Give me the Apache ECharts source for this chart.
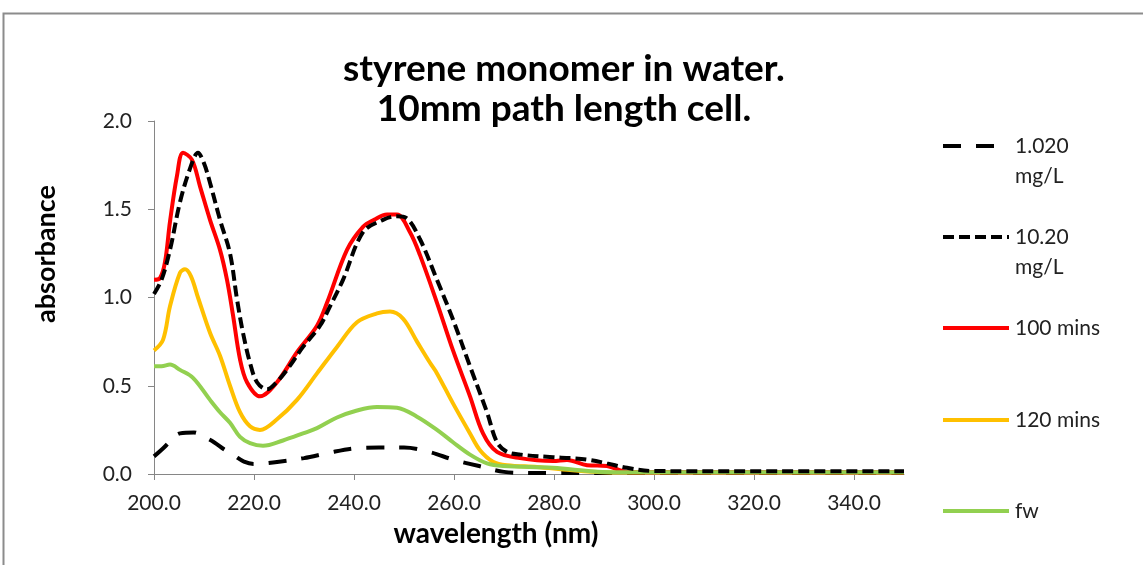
<!DOCTYPE html>
<html><head><meta charset="utf-8">
<script src="https://cdn.jsdelivr.net/npm/echarts@6/dist/echarts.min.js"></script>
<style>html,body{margin:0;padding:0;background:#fff}#c{width:1143px;height:565px}</style>
</head><body><div id="c"></div>
<script>
const seriesNames = ['1.020\nmg/L', '10.20\nmg/L', '100 mins', '120 mins', 'fw'];
const xTicks = [200, 220, 240, 260, 280, 300, 320, 340];
const yTicks = [0, 0.5, 1.0, 1.5, 2.0];

const wl1  = [200, 202, 204, 205.2, 208, 210, 212, 214, 216, 218, 220, 222, 225, 230, 235, 240, 245, 250, 255, 260, 265, 270, 275, 280, 300, 350];
const abs1 = [0.10, 0.15, 0.21, 0.23, 0.235, 0.21, 0.18, 0.14, 0.105, 0.07, 0.057, 0.06, 0.07, 0.09, 0.12, 0.145, 0.15, 0.15, 0.125, 0.08, 0.045, 0.012, 0.006, 0.005, 0.005, 0.005];

const wl2  = [200, 201.5, 203.2, 205.2, 207.2, 208.8, 210, 211.2, 213.2, 215.2, 216.6, 217.8, 219.2, 220.6, 222.6, 224.5, 226.6, 229.8, 233.2, 235.2, 237.8, 241.8, 245.8, 248.5, 250.5, 253.2, 256.6, 259.8, 263.2, 266.6, 268.6, 270.6, 273.2, 279.8, 283.2, 287, 290.6, 294.6, 299.8, 320, 350];
const abs2 = [1.02, 1.10, 1.27, 1.54, 1.73, 1.82, 1.76, 1.65, 1.44, 1.25, 0.99, 0.80, 0.63, 0.52, 0.48, 0.52, 0.59, 0.72, 0.84, 0.95, 1.10, 1.37, 1.44, 1.46, 1.45, 1.33, 1.10, 0.875, 0.61, 0.35, 0.18, 0.125, 0.11, 0.095, 0.09, 0.08, 0.06, 0.035, 0.017, 0.015, 0.015];

const wl3  = [200, 201.2, 202.2, 203.2, 204.6, 205.8, 207.6, 209.2, 211.2, 213.2, 214.6, 215.8, 217.2, 218.6, 221.2, 224.6, 228.6, 232.6, 234.6, 238.6, 241.8, 244, 246.6, 248.6, 251.2, 253.2, 256.6, 259.8, 263.2, 265.8, 268.6, 273.2, 279.8, 282.6, 286.6, 290.6, 294.6, 300, 350];
const abs3 = [1.10, 1.11, 1.20, 1.43, 1.69, 1.82, 1.78, 1.63, 1.44, 1.27, 1.10, 0.90, 0.65, 0.52, 0.44, 0.52, 0.69, 0.84, 0.97, 1.27, 1.40, 1.44, 1.47, 1.47, 1.37, 1.24, 0.97, 0.70, 0.44, 0.23, 0.125, 0.09, 0.074, 0.08, 0.05, 0.045, 0.012, 0.01, 0.01];

const wl4  = [200, 201.8, 203.2, 205.2, 206.2, 207.4, 208.8, 211.2, 213.2, 215.2, 217.2, 219.2, 221.2, 224.6, 228.6, 232.6, 236.6, 240.6, 244.6, 247.2, 249.8, 252.6, 255.2, 256.6, 259.8, 263.2, 265.2, 267.8, 270.6, 276.6, 283.2, 289.8, 300, 350];
const abs4 = [0.70, 0.76, 0.95, 1.14, 1.16, 1.12, 1.00, 0.80, 0.67, 0.50, 0.35, 0.27, 0.25, 0.31, 0.42, 0.57, 0.72, 0.86, 0.91, 0.92, 0.88, 0.75, 0.63, 0.57, 0.40, 0.23, 0.135, 0.07, 0.05, 0.04, 0.022, 0.01, 0.008, 0.008];

const wl5  = [200, 201.5, 203.2, 205.2, 207.8, 211.2, 213.2, 215.2, 217.2, 219.2, 221.8, 225.8, 229.8, 232.6, 236.6, 240.6, 244.6, 248.6, 252.6, 256.6, 259.8, 263.2, 266.6, 269.8, 279.8, 289.8, 300, 350];
const abs5 = [0.61, 0.61, 0.62, 0.59, 0.545, 0.42, 0.35, 0.29, 0.21, 0.175, 0.16, 0.19, 0.23, 0.26, 0.32, 0.36, 0.38, 0.375, 0.325, 0.25, 0.18, 0.11, 0.06, 0.045, 0.035, 0.012, 0.01, 0.01];

const wls = [wl1, wl2, wl3, wl4, wl5];
const abss = [abs1, abs2, abs3, abs4, abs5];
const colors = ['#000000', '#000000', '#FF0000', '#FFC000', '#92D050'];
const dashes = [[18, 15], [11, 5], 'solid', 'solid', 'solid'];
const z = [2, 6, 4, 3, 5];

const FONT = 'Lato, "Open Sans", sans-serif';
const chart = echarts.init(document.getElementById('c'), null, {renderer: 'canvas'});

const series = seriesNames.map((n, i) => ({
  name: n, type: 'line', symbol: 'none', smooth: 0.35, z: z[i],
  data: wls[i].map((x, k) => [x, abss[i][k]]),
  lineStyle: {color: colors[i], width: 4, type: dashes[i]},
  itemStyle: {color: colors[i]}
}));

const legendIconY = [146, 237, 328, 420, 511];
const LH = 30;
const legends = seriesNames.map((n, i) => {
  const two = n.indexOf('\n') >= 0;
  return {
    data: [n],
    orient: 'vertical', left: 941,
    top: two ? legendIconY[i] - (LH * 3) / 2 : legendIconY[i] - LH / 2,
    itemWidth: 66, itemHeight: 14, itemGap: 0, padding: 0,
    selectedMode: false,
    itemStyle: {color: 'rgba(0,0,0,0)', borderWidth: 0},
    lineStyle: {width: 4, color: colors[i], type: dashes[i], cap: 'butt'},
    formatter: name => (name.indexOf('\n') >= 0 ? ' \n' + name : name),
    textStyle: {fontFamily: FONT, fontSize: 21, color: '#222', lineHeight: LH, padding: [0, 0, 0, 1]}
  };
});

chart.setOption({
  animation: false,
  backgroundColor: '#fff',
  title: {
    text: 'styrene monomer in water.\n10mm path length cell.',
    left: 559, top: 44, textAlign: 'center',
    textStyle: {fontFamily: FONT, fontSize: 37, fontWeight: 'bold', color: '#000', lineHeight: 40, align: 'center'}
  },
  legend: legends,
  grid: {left: 154, right: 239, top: 121, bottom: 91, containLabel: false},
  xAxis: {
    type: 'value', min: 200, max: 350, interval: 20,
    splitLine: {show: false},
    axisLine: {lineStyle: {color: '#868686', width: 1}},
    axisTick: {show: true, length: 6, lineStyle: {color: '#868686'}, customValues: xTicks},
    axisLabel: {customValues: xTicks, formatter: v => v.toFixed(1), fontFamily: FONT, fontSize: 21, color: '#222', margin: 19}
  },
  yAxis: {
    type: 'value', min: 0, max: 2, interval: 0.5,
    splitLine: {show: false},
    axisLine: {show: true, lineStyle: {color: '#868686', width: 1}},
    axisTick: {show: true, length: 6, lineStyle: {color: '#868686'}},
    axisLabel: {formatter: v => v.toFixed(1), fontFamily: FONT, fontSize: 21, color: '#222', margin: 22}
  },
  graphic: [
    {type: 'rect', shape: {x: 3.5, y: 13.5, width: 1200, height: 700}, style: {fill: 'none', stroke: '#8c8c8c', lineWidth: 2}, silent: true, z: -1},
    {type: 'text', x: 496, y: 534, style: {text: 'wavelength (nm)', fontFamily: FONT, fontSize: 28, fontWeight: 'bold', fill: '#000', textAlign: 'center', textVerticalAlign: 'middle'}},
    {type: 'text', x: 46, y: 254, rotation: Math.PI / 2, style: {text: 'absorbance', fontFamily: FONT, fontSize: 27, fontWeight: 'bold', fill: '#000', textAlign: 'center', textVerticalAlign: 'middle'}}
  ],
  series: series
});
</script></body></html>
